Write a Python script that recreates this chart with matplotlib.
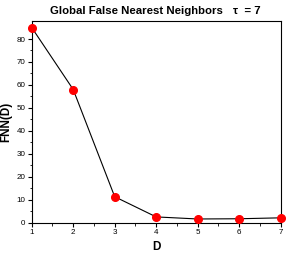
import matplotlib
matplotlib.use("Agg")
import matplotlib.pyplot as plt
from matplotlib.ticker import MultipleLocator

plt.rcParams['font.family'] = ['Liberation Sans', 'DejaVu Sans']

D = [1, 2, 3, 4, 5, 6, 7]
fnn = [85.0, 58.0, 11.3, 2.5, 1.6, 1.7, 2.1]

fig = plt.figure(figsize=(2.87, 2.58), dpi=100)
ax = fig.add_axes([0.1105, 0.137, 0.8675, 0.783])
ax.plot(D, fnn, color='black', lw=0.8, zorder=2)
ax.plot(D, fnn, 'o', color='red', ms=5.5, mec='red', zorder=3, clip_on=False)
ax.set_xlim(1, 7)
ax.set_ylim(0, 88)
ax.xaxis.set_major_locator(MultipleLocator(1))
ax.xaxis.set_minor_locator(MultipleLocator(0.5))
ax.yaxis.set_major_locator(MultipleLocator(10))
ax.yaxis.set_minor_locator(MultipleLocator(5))
ax.tick_params(which='major', direction='out', length=3, width=0.8, labelsize=5.8, pad=1.5)
ax.tick_params(which='minor', direction='out', length=1.8, width=0.6)
for s in ax.spines.values():
    s.set_linewidth(0.8)
ax.set_xlabel('D', fontsize=8.5, fontweight='bold', labelpad=4)
ax.set_ylabel('FNN(D)', fontsize=8.4, fontweight='bold', labelpad=3)
fig.text(0.474, 0.957, 'Global False Nearest Neighbors', ha='center', va='center', fontsize=8.2, fontweight='bold')
fig.text(0.859, 0.957, '\u03c4  = 7', ha='center', va='center', fontsize=8.2, fontweight='bold')
fig.savefig('out.png', dpi=100)
